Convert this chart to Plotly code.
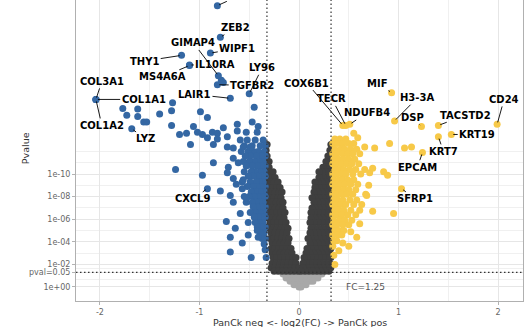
import plotly.graph_objects as go

# ---------------- DATA (log2 fold change, -log10 p-value) ----------------
# labelled genes
label_genes = ["PTPRC", "ZEB2", "WIPF1", "GIMAP4", "THY1", "IL10RA", "MS4A6A", "LY96",
               "TGFBR2", "LAIR1", "COL3A1", "COL1A1", "COL1A2", "LYZ", "CXCL9",
               "COX6B1", "TECR", "NDUFB4", "MIF", "H3-3A", "DSP", "TACSTD2", "CD24",
               "KRT19", "KRT7", "EPCAM", "SFRP1"]
label_fc = [-0.82, -0.79, -0.89, -0.81, -1.18, -1.10, -1.10, -0.50,
            -0.82, -0.69, -2.04, -2.04, -2.04, -1.68, -0.92,
            0.44, 0.47, 0.51, 0.93, 0.96, 1.23, 1.40, 1.99,
            1.53, 1.40, 1.24, 1.03]
label_mlp = [24.9, 22.1, 20.7, 18.7, 20.5, 19.65, 19.6, 17.1,
             17.9, 16.7, 16.6, 16.6, 16.6, 14.0, 8.7,
             14.3, 14.3, 14.4, 17.2, 14.7, 14.2, 14.3, 14.4,
             13.5, 13.3, 11.9, 8.7]

# blue (PanCk neg, significant) scattered points
blue_fc = [-1.77, -1.62, -1.73, -1.62, -1.40, -1.56, -1.53, -1.27, -1.28, -1.28, -0.99, -0.92,
           -1.20, -1.13, -1.06, -1.02, -0.97, -0.87, -0.82, -0.76, -0.72, -0.62, -0.62, -0.53,
           -0.47, -0.42, -1.09, -0.86, -0.82, -0.72, -0.66, -0.59, -0.56, -0.49, -1.24, -0.97,
           -0.86, -0.71, -0.66, -0.61, -0.79, -0.72, -0.69, -0.66, -0.59, -0.73, -0.64, -0.69,
           -0.51, -0.42, -0.51, -0.41, -0.57, -0.69, -0.48, -0.34, -0.33, -0.78, -0.76, -0.41,
           -0.66, -0.63, -0.56, -0.57, -0.53, -0.92, -0.45]
blue_mlp = [15.8, 15.75, 15.2, 15.1, 15.3, 14.6, 14.6, 16.3, 15.6, 14.3, 15.5, 15.0,
            13.5, 13.6, 14.2, 13.7, 13.5, 13.7, 13.6, 14.1, 13.3, 14.4, 13.8, 13.7,
            14.6, 13.7, 12.6, 12.6, 13.1, 12.4, 12.3, 13.0, 12.4, 12.4, 10.4, 9.9,
            11.0, 10.6, 11.4, 11.0, 8.5, 10.1, 8.1, 7.5, 6.5, 5.8, 5.2, 4.4,
            5.7, 5.0, 4.6, 4.4, 3.9, 3.1, 2.6, 3.3, 2.6, 18.3, 18.1, 14.2,
            9.6, 9.1, 9.5, 8.7, 7.9, 13.2, 15.9]
# blue dense band next to the threshold (rows of equal -log10 p)
blue_rows_mlp = [13.0, 12.5, 12.0, 11.6, 11.1, 10.7, 10.2, 9.8, 9.3, 8.9, 8.4, 8.0,
                 7.5, 7.1, 6.6, 6.2, 5.7, 5.3, 4.8, 4.3, 3.8]
blue_rows_fc = [[-0.36, -0.44, -0.52],
                [-0.34, -0.39, -0.47, -0.55],
                [-0.35, -0.41, -0.46, -0.51, -0.58],
                [-0.34, -0.38, -0.43, -0.49, -0.54],
                [-0.36, -0.40, -0.45, -0.50, -0.56],
                [-0.34, -0.38, -0.42, -0.47, -0.53],
                [-0.35, -0.39, -0.44, -0.48, -0.55],
                [-0.34, -0.37, -0.41, -0.46, -0.51],
                [-0.36, -0.40, -0.43, -0.49, -0.57],
                [-0.34, -0.38, -0.42, -0.46, -0.52],
                [-0.35, -0.39, -0.44, -0.48],
                [-0.34, -0.37, -0.41, -0.45, -0.50, -0.55],
                [-0.36, -0.40, -0.43, -0.47, -0.53],
                [-0.34, -0.38, -0.42, -0.46],
                [-0.35, -0.39, -0.44, -0.49],
                [-0.34, -0.37, -0.41, -0.45],
                [-0.36, -0.40, -0.44],
                [-0.34, -0.38, -0.42],
                [-0.35, -0.39],
                [-0.34, -0.37],
                [-0.35]]

# yellow (PanCk pos, significant) scattered points
yellow_fc = [0.47, 0.59, 0.66, 0.76, 0.91, 1.06, 1.13, 0.85, 0.89, 0.71, 0.74, 0.68,
             0.74, 0.95, 0.61, 0.52, 0.58, 0.44, 0.40, 0.50, 0.36, 0.55, 0.63, 0.70]
yellow_mlp = [12.8, 13.2, 12.4, 12.3, 12.7, 12.3, 12.4, 10.2, 9.9, 10.1, 10.5, 8.1,
              6.7, 6.5, 5.6, 4.9, 4.4, 3.9, 3.2, 3.6, 2.0, 13.6, 7.3, 9.0]
yellow_rows_mlp = [13.1, 12.7, 12.2, 11.8, 11.3, 10.9, 10.4, 10.0, 9.5, 9.1, 8.6, 8.2,
                   7.7, 7.3, 6.8, 6.4, 5.9, 5.5, 5.0, 4.6, 4.1, 3.6, 2.8]
yellow_rows_fc = [[0.36, 0.41, 0.47],
                  [0.34, 0.39, 0.44, 0.50, 0.55],
                  [0.36, 0.42, 0.46, 0.52, 0.58],
                  [0.34, 0.38, 0.44, 0.49, 0.54, 0.61],
                  [0.35, 0.40, 0.45, 0.50, 0.56],
                  [0.34, 0.38, 0.43, 0.48, 0.53, 0.60],
                  [0.36, 0.41, 0.45, 0.51, 0.57, 0.66],
                  [0.34, 0.38, 0.43, 0.47, 0.54, 0.62],
                  [0.35, 0.40, 0.44, 0.49, 0.55],
                  [0.34, 0.37, 0.42, 0.46, 0.52, 0.59],
                  [0.36, 0.40, 0.45, 0.50, 0.57],
                  [0.34, 0.38, 0.43, 0.48, 0.54, 0.67],
                  [0.35, 0.39, 0.44, 0.51, 0.58],
                  [0.34, 0.37, 0.42, 0.47, 0.55],
                  [0.36, 0.40, 0.45, 0.52, 0.61],
                  [0.34, 0.38, 0.43, 0.49, 0.57],
                  [0.35, 0.41, 0.46, 0.53],
                  [0.34, 0.38, 0.44, 0.50],
                  [0.36, 0.40, 0.45],
                  [0.34, 0.39, 0.43],
                  [0.35, 0.38],
                  [0.34],
                  [0.35]]

# dark grey (significant p, small fold change) - rows
grey_rows_mlp = [12.6, 12.1, 11.6, 11.1, 10.6, 10.2, 9.7, 9.3, 8.8, 8.4, 7.9, 7.5, 7.0,
                 6.6, 6.1, 5.7, 5.2, 4.8, 4.3, 3.9, 3.4, 3.0, 2.6, 2.1, 1.7, 1.4]
grey_rows_fc = [[-0.32, 0.32],
                [-0.33, 0.31],
                [-0.32, 0.32, 0.29],
                [-0.32, -0.30, 0.31, 0.27],
                [-0.33, -0.30, 0.32, 0.28, 0.24],
                [-0.32, -0.29, -0.26, 0.31, 0.27, 0.23, 0.20],
                [-0.33, -0.30, -0.27, -0.24, 0.32, 0.28, 0.24, 0.20],
                [-0.32, -0.28, -0.25, -0.21, 0.31, 0.27, 0.23, 0.19, 0.16],
                [-0.33, -0.29, -0.26, -0.22, -0.19, 0.32, 0.28, 0.24, 0.20, 0.16],
                [-0.32, -0.28, -0.24, -0.20, -0.17, 0.31, 0.27, 0.23, 0.19, 0.15],
                [-0.33, -0.29, -0.25, -0.21, -0.18, 0.32, 0.28, 0.24, 0.20, 0.16, 0.13],
                [-0.31, -0.27, -0.23, -0.19, -0.16, 0.31, 0.27, 0.23, 0.19, 0.15],
                [-0.32, -0.28, -0.24, -0.20, -0.16, 0.32, 0.28, 0.24, 0.20, 0.16, 0.13],
                [-0.30, -0.26, -0.22, -0.18, -0.14, 0.31, 0.27, 0.23, 0.19, 0.15, 0.12],
                [-0.31, -0.27, -0.23, -0.19, -0.15, 0.32, 0.28, 0.24, 0.20, 0.16, 0.12],
                [-0.29, -0.25, -0.21, -0.17, -0.13, 0.31, 0.27, 0.23, 0.19, 0.15, 0.11],
                [-0.30, -0.26, -0.22, -0.18, -0.14, -0.11, 0.32, 0.28, 0.24, 0.20, 0.16, 0.12],
                [-0.28, -0.24, -0.20, -0.16, -0.12, 0.31, 0.27, 0.23, 0.19, 0.15, 0.11],
                [-0.29, -0.25, -0.21, -0.17, -0.13, -0.10, 0.32, 0.28, 0.24, 0.20, 0.16, 0.12, 0.09],
                [-0.27, -0.23, -0.19, -0.15, -0.11, 0.31, 0.27, 0.23, 0.19, 0.15, 0.11],
                [-0.28, -0.24, -0.20, -0.16, -0.12, -0.08, 0.32, 0.28, 0.24, 0.20, 0.16, 0.12, 0.08],
                [-0.27, -0.23, -0.19, -0.15, -0.11, -0.07, 0.31, 0.27, 0.23, 0.19, 0.15, 0.11, 0.07],
                [-0.26, -0.22, -0.18, -0.14, -0.10, -0.06, -0.03, 0.32, 0.28, 0.24, 0.20, 0.16, 0.12, 0.08, 0.05],
                [-0.27, -0.23, -0.19, -0.15, -0.11, -0.07, -0.03, 0.31, 0.27, 0.23, 0.19, 0.15, 0.11, 0.07, 0.04],
                [-0.28, -0.24, -0.20, -0.16, -0.12, -0.08, -0.04, 0.00, 0.32, 0.28, 0.24, 0.20, 0.16, 0.12, 0.08, 0.04],
                [-0.25, -0.21, -0.17, -0.13, -0.09, -0.05, -0.01, 0.30, 0.26, 0.22, 0.18, 0.14, 0.10, 0.06, 0.02]]

# light grey (not significant) - rows
ns_rows_mlp = [1.15, 0.8, 0.5, 0.2, 0.0]
ns_rows_fc = [[-0.16, -0.12, -0.08, -0.04, 0.00, 0.04, 0.08, 0.12, 0.16, 0.20, 0.23],
              [-0.13, -0.09, -0.05, -0.01, 0.03, 0.07, 0.11, 0.15, 0.19],
              [-0.09, -0.05, -0.01, 0.03, 0.07, 0.11, 0.14],
              [-0.05, -0.01, 0.03, 0.07],
              [0.00, 0.02]]

y_tick_vals = [0, 1.30103, 2, 4, 6, 8, 10]
y_tick_text = ["1e+00", "pval=0.05", "1e-02", "1e-04", "1e-06", "1e-08", "1e-10"]
x_tick_vals = [-2, -1, 0, 1, 2]
fc_cut = 0.32193  # log2(1.25)
p_cut = 1.30103   # -log10(0.05)


def flatten(rows_y, rows_x):
    xs, ys = [], []
    for y, row in zip(rows_y, rows_x):
        for x in row:
            xs.append(x)
            ys.append(y)
    return xs, ys


gx, gy = flatten(grey_rows_mlp, grey_rows_fc)
nx, ny = flatten(ns_rows_mlp, ns_rows_fc)
bx, by = flatten(blue_rows_mlp, blue_rows_fc)
yx, yy = flatten(yellow_rows_mlp, yellow_rows_fc)
bx += blue_fc
by += blue_mlp
yx += yellow_fc
yy += yellow_mlp
for g, f, m in zip(label_genes, label_fc, label_mlp):
    if f < 0:
        bx.append(f); by.append(m)
    else:
        yx.append(f); yy.append(m)

BLUE = "#3467a3"
YELLOW = "#f7c948"
DARK = "#3f3f3f"
LIGHT = "#a8a8a8"
MS = 7

fig = go.Figure()
for xs, ys, col in [(nx, ny, LIGHT), (gx, gy, DARK), (bx, by, BLUE), (yx, yy, YELLOW)]:
    fig.add_trace(go.Scatter(x=xs, y=ys, mode="markers",
                             marker=dict(color=col, size=MS, line=dict(width=0)),
                             hoverinfo="skip", showlegend=False, cliponaxis=True))

# label text positions (data coords of text centres)
label_text_pos = {
    "PTPRC": (-0.57, 25.9), "ZEB2": (-0.64, 22.95), "WIPF1": (-0.62, 21.1),
    "GIMAP4": (-1.06, 21.6), "THY1": (-1.55, 20.0), "IL10RA": (-0.84, 19.65),
    "MS4A6A": (-1.37, 18.6), "LY96": (-0.37, 19.4), "TGFBR2": (-0.47, 17.85),
    "LAIR1": (-1.05, 17.05), "COL3A1": (-1.98, 18.2), "COL1A1": (-1.56, 16.6),
    "COL1A2": (-1.98, 14.3), "LYZ": (-1.54, 13.1), "CXCL9": (-1.07, 7.8),
    "COX6B1": (0.08, 18.05), "TECR": (0.33, 16.65), "NDUFB4": (0.68, 15.4),
    "MIF": (0.79, 18.0), "H3-3A": (1.19, 16.75), "DSP": (1.14, 15.0),
    "TACSTD2": (1.67, 15.2), "CD24": (2.06, 16.6), "KRT19": (1.79, 13.5),
    "KRT7": (1.45, 12.0), "EPCAM": (1.19, 10.6), "SFRP1": (1.17, 7.8),
}
for g, f, m in zip(label_genes, label_fc, label_mlp):
    tx, ty = label_text_pos[g]
    fig.add_annotation(x=f, y=m, ax=tx, ay=ty, axref="x", ayref="y", xref="x", yref="y",
                       text=g, showarrow=True, arrowhead=0, arrowwidth=0.9,
                       arrowcolor="black", standoff=2,
                       font=dict(family="DejaVu Sans", size=10, color="black", weight="bold"))

fig.add_annotation(x=0.67, y=0.02, xref="x", yref="y", text="FC=1.25", showarrow=False,
                   font=dict(family="DejaVu Sans", size=9, color="#555555"))

# axis titles (placed as annotations to keep the panel geometry fixed)
fig.add_annotation(x=0.501, y=-0.073, xref="paper", yref="paper", showarrow=False,
                   text="PanCk neg <- log2(FC) -> PanCk pos", xanchor="center", yanchor="middle",
                   font=dict(family="DejaVu Sans", size=9.5, color="#333333"))
fig.add_annotation(x=-0.114, y=0.508, xref="paper", yref="paper", showarrow=False,
                   text="Pvalue", textangle=-90, xanchor="center", yanchor="middle",
                   font=dict(family="DejaVu Sans", size=9.5, color="#333333"))

dot = dict(color="#333333", width=1.2, dash="1.5px,2.5px")
fig.add_shape(type="line", x0=-fc_cut, x1=-fc_cut, y0=0, y1=1, xref="x", yref="paper", line=dot, layer="above")
fig.add_shape(type="line", x0=fc_cut, x1=fc_cut, y0=0, y1=1, xref="x", yref="paper", line=dot, layer="above")
fig.add_shape(type="line", x0=0, x1=1, y0=p_cut, y1=p_cut, xref="paper", yref="y", line=dot, layer="above")

grid = "#e6e6e6"
minor_grid = "#f0f0f0"
fig.update_layout(
    width=531, height=327,
    margin=dict(l=76, r=8, t=0, b=26, autoexpand=False),
    paper_bgcolor="white", plot_bgcolor="white",
    font=dict(family="DejaVu Sans", color="#4d4d4d"),
    xaxis=dict(range=[-2.24, 2.25], tickvals=x_tick_vals, ticktext=[str(v) for v in x_tick_vals],
               showgrid=True, gridcolor=grid, gridwidth=1, zeroline=False, automargin=False,
               ticks="outside", ticklen=3, tickcolor="#b3b3b3", tickfont=dict(size=8, color="#666666"),
               showline=True, mirror=True, linecolor="#b0b0b0", linewidth=1,
               minor=dict(tickvals=[-1.5, -0.5, 0.5, 1.5], showgrid=True, gridcolor=minor_grid, ticks="")),
    yaxis=dict(range=[-1.24, 25.4], tickvals=y_tick_vals, ticktext=y_tick_text,
               showgrid=True, gridcolor=grid, gridwidth=1, zeroline=False, automargin=False,
               ticks="outside", ticklen=3, tickcolor="#b3b3b3", tickfont=dict(size=8, color="#666666"),
               showline=True, mirror=True, linecolor="#b0b0b0", linewidth=1,
               minor=dict(tickvals=[0.65, 1.65, 3, 5, 7, 9, 11, 12], showgrid=True,
                          gridcolor=minor_grid, ticks="")),
)

fig.write_html("out.html", config={"displayModeBar": False},
               post_script="document.body.style.margin='0';document.body.style.overflow='hidden';")
